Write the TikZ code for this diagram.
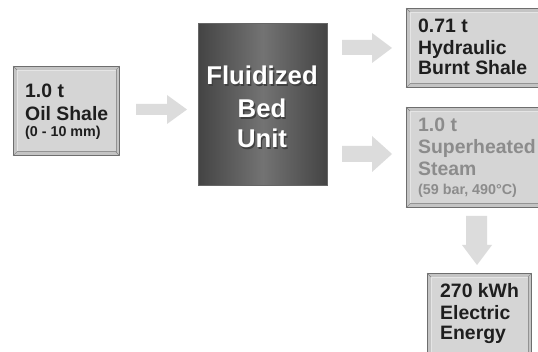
\documentclass[tikz,border=0pt]{standalone}
\usepackage{fontspec}
\setmainfont{Liberation Sans}
\usetikzlibrary{positioning}
\definecolor{facegray}{HTML}{D5D5D5}
\definecolor{bevelgray}{HTML}{C4C4C4}
\definecolor{edgegray}{HTML}{6E6E6E}
\definecolor{arrowgray}{HTML}{DCDCDC}
\definecolor{txtdark}{HTML}{1E1E1E}
\definecolor{txtlight}{HTML}{8C8C8C}
\definecolor{beddark}{HTML}{444444}
\definecolor{bedmid}{HTML}{737373}
\tikzset{
  bevelbox/.style={draw=edgegray, line width=0.8pt, fill=bevelgray, inner sep=0pt, anchor=north west},
  txtline/.style={anchor=base west, inner sep=0pt, font=\bfseries\fontsize{19.4}{19.4}\selectfont, text=txtdark},
  smallline/.style={txtline, font=\bfseries\fontsize{14.3}{14.3}\selectfont},
  bedtxt/.style={anchor=base, inner sep=0pt, font=\bfseries\fontsize{25.7}{25.7}\selectfont, text=white},
  bedshadow/.style={anchor=base, inner sep=0pt, font=\bfseries\fontsize{25.7}{25.7}\selectfont, text=black!75},
  blockarrow/.style={fill=arrowgray, draw=none},
}
\newcommand{\bevelface}[1]{%
  \fill[facegray] ([shift={(4,4)}]#1.north west) rectangle ([shift={(-4,-4)}]#1.south east);
  \draw[white!80!gray, line width=0.6pt] ([shift={(4,-4)}]#1.south west) -- ([shift={(4,4)}]#1.north west) -- ([shift={(-4,4)}]#1.north east);
  \draw[gray!85, line width=0.6pt] ([shift={(-4,4)}]#1.north east) -- ([shift={(-4,-4)}]#1.south east) -- ([shift={(4,-4)}]#1.south west);
  \draw[gray, line width=0.4pt] (#1.north west) -- ([shift={(4,4)}]#1.north west);
  \draw[gray, line width=0.4pt] (#1.north east) -- ([shift={(-4,4)}]#1.north east);
  \draw[gray, line width=0.4pt] (#1.south west) -- ([shift={(4,-4)}]#1.south west);
  \draw[gray, line width=0.4pt] (#1.south east) -- ([shift={(-4,-4)}]#1.south east);
}
\begin{document}
\begin{tikzpicture}[x=1pt,y=-1pt]
\fill[white] (0,0) rectangle (538,352);
\clip (0,0) rectangle (538,352);
\useasboundingbox (0,0) rectangle (538,352);

% Oil shale box
\node[bevelbox, minimum width=106pt, minimum height=89pt] (oil) at (13,66) {};
\bevelface{oil}
\node[txtline] (oil1) at (25,98) {1.0 t};
\node[txtline] (oil2) at (25,121) {Oil Shale};
\node[smallline] (oil3) at (25,136.5) {(0 - 10 mm)};

% Fluidized bed unit
\node[inner sep=0pt, anchor=north west, minimum width=129pt, minimum height=162pt,
  left color=beddark, right color=beddark, middle color=bedmid, draw=black!60, line width=0.5pt] (bed) at (198,23) {};
\foreach \t/\yy [count=\i] in {Fluidized/85, Bed/118, Unit/148}{
  \node[bedshadow] (bs\i) at (263.3,\yy+1.3) {\t};
  \node[bedtxt] (bt\i) at (262,\yy) {\t};
}

% Hydraulic burnt shale box
\node[bevelbox, minimum width=150pt, minimum height=79pt] (hyd) at (406,8) {};
\bevelface{hyd}
\node[txtline] (hyd1) at (418,33) {0.71 t};
\node[txtline] (hyd2) at (418,54.5) {Hydraulic};
\node[txtline] (hyd3) at (418,75) {Burnt Shale};

% Steam box
\node[bevelbox, minimum width=150pt, minimum height=100pt] (stm) at (406,107) {};
\bevelface{stm}
\node[txtline, text=txtlight] (stm1) at (418,132) {1.0 t};
\node[txtline, text=txtlight] (stm2) at (418,154) {Superheated};
\node[txtline, text=txtlight] (stm3) at (418,175.5) {Steam};
\node[smallline, text=txtlight] (stm4) at (418,195) {(59 bar, 490°C)};

% Electric energy box
\node[bevelbox, minimum width=104pt, minimum height=95pt] (ele) at (427,273) {};
\bevelface{ele}
\node[txtline] (ele1) at (440,298) {270 kWh};
\node[txtline] (ele2) at (440,319.5) {Electric};
\node[txtline] (ele3) at (440,340) {Energy};

% Block arrows
\fill[blockarrow] (136,104) -- (167,104) -- (167,95) -- (187,109.5) -- (167,124) -- (167,115) -- (136,115) -- cycle;
\fill[blockarrow] (342,40) -- (372,40) -- (372,33) -- (392,48) -- (372,63) -- (372,55) -- (342,55) -- cycle;
\fill[blockarrow] (342,146) -- (372,146) -- (372,136) -- (392,154) -- (372,172) -- (372,162) -- (342,162) -- cycle;
\fill[blockarrow] (466,216) -- (466,245) -- (462,245) -- (477,265) -- (492,245) -- (487,245) -- (487,216) -- cycle;
\end{tikzpicture}
\end{document}
